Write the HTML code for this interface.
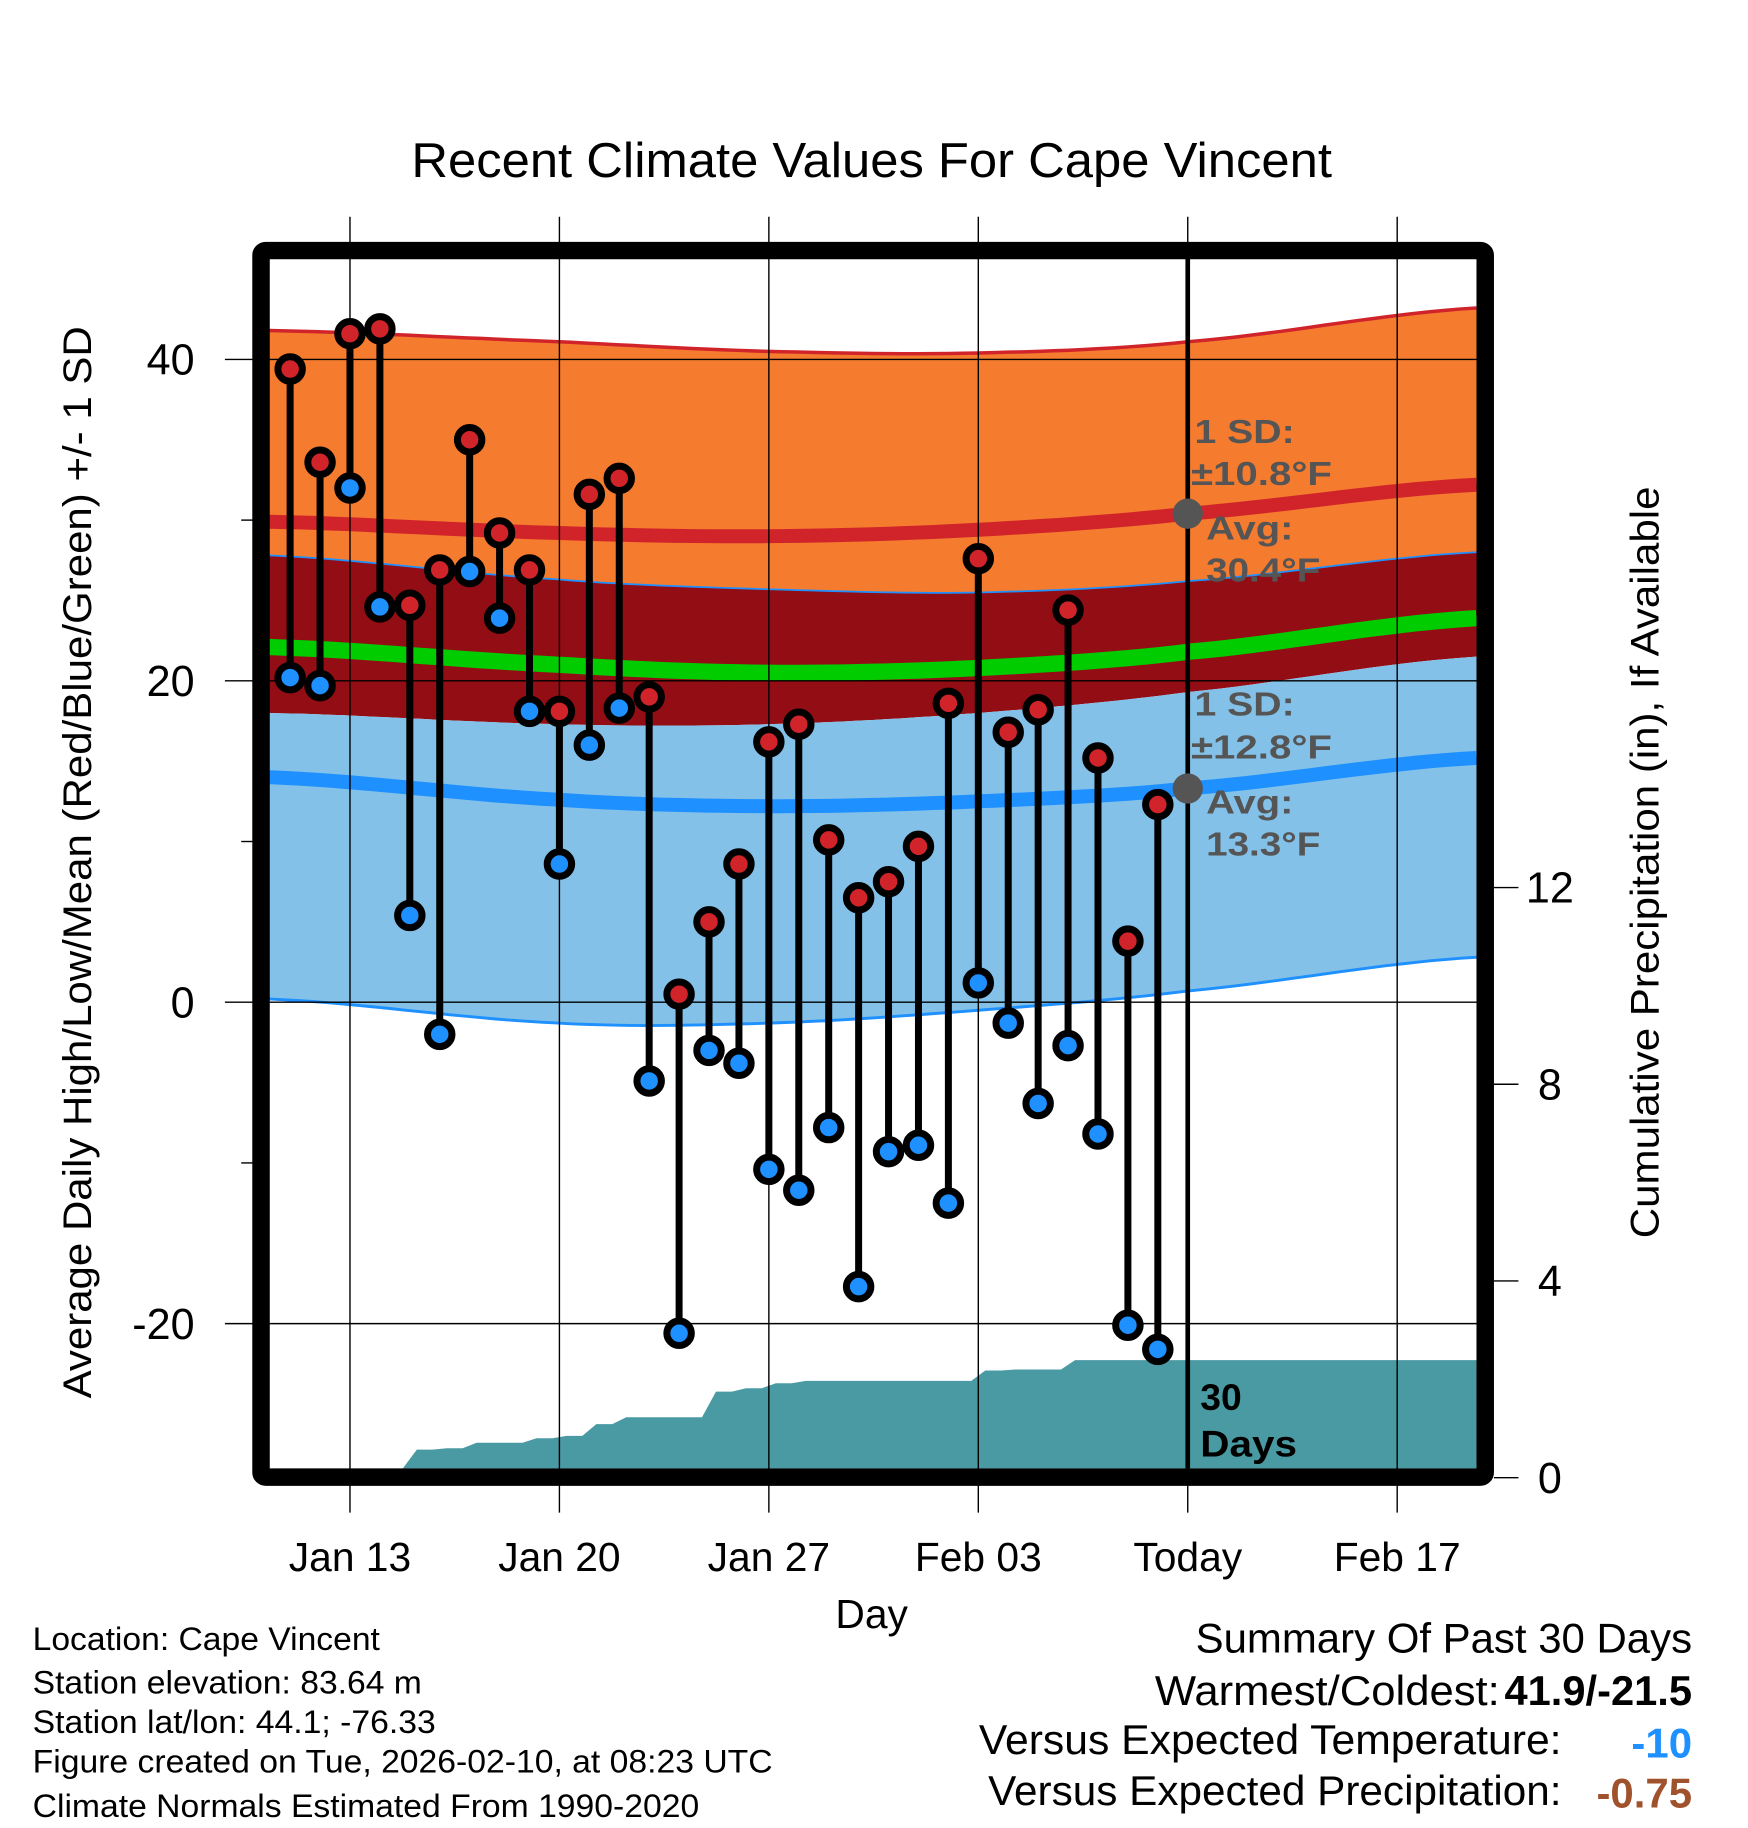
<!DOCTYPE html>
<html><head><meta charset="utf-8"><style>
html,body{margin:0;padding:0;background:#fff;}
svg{display:block;font-family:"Liberation Sans",Arial,sans-serif;}
</style></head><body>
<svg id="chart" width="1748" height="1828" viewBox="0 0 1500 1568.6" preserveAspectRatio="none" xmlns="http://www.w3.org/2000/svg">
<rect width="1500" height="1570" fill="#fff"/>
<g id="bands"></g>
<g id="grid"></g>
<g id="marks"></g>
<g id="texts"></g>
</svg>
<script>
// ---- data ----
const dayOffsets = [-2,-1,0,1,2,3,4,5,6,7,8,9,10,11,12,13,14,15,16,17,18,19,20,21,22,23,24,25,26,27];
const highs = [39.4,33.6,41.6,41.9,24.7,26.9,35.0,29.2,26.9,18.1,31.6,32.6,19.0,0.5,5.0,8.6,16.2,17.3,10.1,6.5,7.5,9.7,18.6,27.6,16.8,18.2,24.4,15.2,3.8,12.3];
const lows = [20.2,19.7,32.0,24.6,5.4,-2.0,26.8,23.9,18.1,8.6,16.0,18.3,-4.9,-20.6,-3.0,-3.8,-10.4,-11.7,-7.8,-17.7,-9.3,-8.9,-12.5,1.2,-1.3,-6.3,-2.7,-8.2,-20.1,-21.6];
const precip = [0,0,0,0.15,0.57,0.6,0.71,0.71,0.8,0.85,1.09,1.23,1.23,1.23,1.75,1.82,1.92,1.97,1.97,1.97,1.97,1.97,1.97,2.18,2.2,2.2,2.39,2.39,2.39,2.39];
const normDays = [-2.7,7,14,21,28,37.65];
const highTop = [41.8,41.1,40.5,40.4,41.1,43.2];
const highMean = [29.9,29.2,29.0,29.4,30.4,32.2];
const highBot = [27.8,26.3,25.7,25.5,26.2,28.0];
const meanMean = [22.1,21.0,20.5,20.8,21.8,23.9];
const lowTop = [18.0,17.3,17.3,18.0,19.3,21.5];
const lowMean = [14.0,12.6,12.2,12.5,13.3,15.2];
const lowBot = [0.2,-1.3,-1.3,-0.5,0.7,2.8];
const yTicks = [40,20,0,-20];
const yMinor = [30,10,-10];
const xTickDays = [0,7,14,21,28,35];
const xTickLabels = ["Jan 13","Jan 20","Jan 27","Feb 03","Today","Feb 17"];
const pTicks = [0,4,8,12];

// ---- scales ----
const X0=231,X1=1267,Y0=222,Y1=1260;
const DMIN=-2.7,DMAX=37.65;
function xs(d){return X0+(d-DMIN)/(DMAX-DMIN)*(X1-X0);}
function ys(v){return 860-v*13.79;}
function ps(p){return 1268-42.2*p;}
const NS="http://www.w3.org/2000/svg";
function mk(tag,attrs,parent){const e=document.createElementNS(NS,tag);for(const k in attrs)e.setAttribute(k,attrs[k]);parent.appendChild(e);return e;}
// smooth interpolation (monotone-ish catmull-rom) over normDays
function interp(arr,d){
  let i=0;while(i<normDays.length-2&&d>normDays[i+1])i++;
  const x0=normDays[i],x1=normDays[i+1],t=(d-x0)/(x1-x0);
  const p0=arr[Math.max(0,i-1)],p1=arr[i],p2=arr[i+1],p3=arr[Math.min(arr.length-1,i+2)];
  const m1=(p2-p0)/2,m2=(p3-p1)/2;
  const t2=t*t,t3=t2*t;
  return (2*t3-3*t2+1)*p1+(t3-2*t2+t)*m1+(-2*t3+3*t2)*p2+(t3-t2)*m2;
}
function line(arr){const pts=[];for(let k=0;k<=80;k++){const d=DMIN+(DMAX-DMIN)*k/80;pts.push(xs(d).toFixed(1)+","+ys(interp(arr,d)).toFixed(1));}return pts;}
const bands=document.getElementById('bands'),grid=document.getElementById('grid'),marks=document.getElementById('marks'),texts=document.getElementById('texts');

function band(top,bot,fill,name){
  const pts=line(top).concat(line(bot).reverse());
  const p=mk('polygon',{points:pts.join(' '),fill:fill},bands);
  
  
}
band(highTop,highBot,'#f57b2f','high-sd-band');
band(highBot,lowTop,'#930d14','mean-sd-band');
band(lowTop,lowBot,'#84c1e8','low-sd-band');
function pl(arr,stroke,w,name){
  const p=mk('polyline',{points:line(arr).join(' '),fill:'none',stroke:stroke,'stroke-width':w},bands);
  
  
}
pl(highTop,'#d0242a',3,'high-sd-top-line');
pl(highMean,'#d0242a',12,'high-mean-line');
pl(highBot,'#1e90ff',1.5,'high-sd-bottom-line');
pl(meanMean,'#00cc00',14,'mean-line');
pl(lowMean,'#1e90ff',12,'low-mean-line');
pl(lowBot,'#1e90ff',2.5,'low-sd-bottom-line');

// precip area (step-ish)
{
  let pts=[xs(dayOffsets[0])+","+Y1];
  dayOffsets.forEach((d,i)=>{
    const x=xs(d);
    const prev=i>0?precip[i-1]:precip[0];
    pts.push((x-6).toFixed(1)+","+Math.min(Y1,ps(prev)).toFixed(1));
    pts.push((x+6).toFixed(1)+","+Math.min(Y1,ps(precip[i])).toFixed(1));
  });
  pts.push(X1+","+Math.min(Y1,ps(precip[precip.length-1])).toFixed(1));
  pts.push(X1+","+Y1);
  const p=mk('polygon',{points:pts.join(' '),fill:'#4a9aa3'},bands);
  
  
}

// grid
xTickDays.forEach((d,i)=>{
  const x=xs(d);
  const g=mk('line',{x1:x,x2:x,y1:186,y2:1298,stroke:'#000','stroke-width':1.2},grid);
  
  
  const t=mk('text',{x:x,y:1348,'font-size':35,'text-anchor':'middle'},texts);
  t.textContent=xTickLabels[i];
  
  
});
yTicks.forEach(v=>{
  const y=ys(v);
  const g=mk('line',{x1:193,x2:X1,y1:y,y2:y,stroke:'#000','stroke-width':1.2},grid);
  
  
  const t=mk('text',{x:167,y:y+13,'font-size':37,'text-anchor':'end'},texts);
  t.textContent=v;
  
  
});
yMinor.forEach(v=>{
  const g=mk('line',{x1:207,x2:217,y1:ys(v),y2:ys(v),stroke:'#000','stroke-width':1.2},grid);
  
  
});
pTicks.forEach(p=>{
  const y=ps(p);
  const g=mk('line',{x1:1282,x2:1303,y1:y,y2:y,stroke:'#000','stroke-width':1.2},grid);
  
  
  const t=mk('text',{x:1330,y:y+13,'font-size':37,'text-anchor':'middle'},texts);
  t.textContent=p;
  
  
});

// today line
{
  const x=xs(28);
  const l=mk('line',{x1:x,x2:x,y1:Y0,y2:Y1,stroke:'#000','stroke-width':4},marks);
  
  
}

// stems and points
dayOffsets.forEach((d,i)=>{
  const x=xs(d);
  const s=mk('line',{x1:x,x2:x,y1:ys(highs[i]),y2:ys(lows[i]),stroke:'#000','stroke-width':6},marks);
  
  
});
dayOffsets.forEach((d,i)=>{
  const x=xs(d);
  const h=mk('circle',{cx:x,cy:ys(highs[i]),r:10.5,fill:'#d0242a',stroke:'#000','stroke-width':6},marks);
  
  
  const l=mk('circle',{cx:x,cy:ys(lows[i]),r:10.5,fill:'#1e90ff',stroke:'#000','stroke-width':6},marks);
  
  
});
[30.4,13.3].forEach(v=>{
  const c=mk('circle',{cx:xs(28),cy:ys(v),r:13,fill:'#555'},marks);
  
  
});

// frame
{
  const f=mk('rect',{x:224,y:215,width:1050.5,height:1052.5,fill:'none',stroke:'#000','stroke-width':15,rx:4},marks);
  
  
}
</script>
<svg style="position:absolute;left:0;top:0" width="1748" height="1828" viewBox="0 0 1500 1568.6" preserveAspectRatio="none" xmlns="http://www.w3.org/2000/svg" font-family="Liberation Sans, Arial, sans-serif">
<text x="353" y="152" font-size="42" textLength="790" lengthAdjust="spacingAndGlyphs">Recent Climate Values For Cape Vincent</text>
<text transform="translate(78,740) rotate(-90)" font-size="34" text-anchor="middle" textLength="920" lengthAdjust="spacingAndGlyphs">Average Daily High/Low/Mean (Red/Blue/Green) +/- 1 SD</text>
<text transform="translate(1423,740) rotate(-90)" font-size="34" text-anchor="middle" textLength="645" lengthAdjust="spacingAndGlyphs">Cumulative Precipitation (in), If Available</text>
<text x="748" y="1397" font-size="35" text-anchor="middle">Day</text>
<g font-size="29" font-weight="bold" fill="#555">
<text x="1025" y="380" textLength="86" lengthAdjust="spacingAndGlyphs">1 SD:</text>
<text x="1022" y="416" textLength="121" lengthAdjust="spacingAndGlyphs">±10.8°F</text>
<text x="1035" y="463" textLength="75" lengthAdjust="spacingAndGlyphs">Avg:</text>
<text x="1035" y="499" textLength="98" lengthAdjust="spacingAndGlyphs">30.4°F</text>
</g>
<g font-size="29" font-weight="bold" fill="#555">
<text x="1025" y="614" textLength="86" lengthAdjust="spacingAndGlyphs">1 SD:</text>
<text x="1022" y="651" textLength="121" lengthAdjust="spacingAndGlyphs">±12.8°F</text>
<text x="1035" y="698" textLength="75" lengthAdjust="spacingAndGlyphs">Avg:</text>
<text x="1035" y="734" textLength="98" lengthAdjust="spacingAndGlyphs">13.3°F</text>
</g>
<g font-size="32" font-weight="bold">
<text x="1030" y="1210">30</text>
<text x="1030" y="1250" textLength="83" lengthAdjust="spacingAndGlyphs">Days</text>
</g>
<g font-size="28">
<text x="28" y="1416" textLength="298" lengthAdjust="spacingAndGlyphs">Location: Cape Vincent</text>
<text x="28" y="1453" textLength="334" lengthAdjust="spacingAndGlyphs">Station elevation: 83.64 m</text>
<text x="28" y="1487" textLength="346" lengthAdjust="spacingAndGlyphs">Station lat/lon: 44.1; -76.33</text>
<text x="28" y="1521" textLength="635" lengthAdjust="spacingAndGlyphs">Figure created on Tue, 2026-02-10, at 08:23 UTC</text>
<text x="28" y="1559" textLength="572" lengthAdjust="spacingAndGlyphs">Climate Normals Estimated From 1990-2020</text>
</g>
<g font-size="36">
<text x="1026" y="1418" textLength="426" lengthAdjust="spacingAndGlyphs">Summary Of Past 30 Days</text>
<text x="991" y="1463" textLength="296" lengthAdjust="spacingAndGlyphs">Warmest/Coldest:</text>
<text x="1291" y="1463" font-weight="bold" textLength="161" lengthAdjust="spacingAndGlyphs">41.9/-21.5</text>
<text x="840" y="1505" textLength="500" lengthAdjust="spacingAndGlyphs">Versus Expected Temperature:</text>
<text x="1452" y="1508" text-anchor="end" font-weight="bold" fill="#1e90ff">-10</text>
<text x="848" y="1549" textLength="492" lengthAdjust="spacingAndGlyphs">Versus Expected Precipitation:</text>
<text x="1452" y="1551" text-anchor="end" font-weight="bold" fill="#a0522d">-0.75</text>
</g>
</svg>
</body></html>
